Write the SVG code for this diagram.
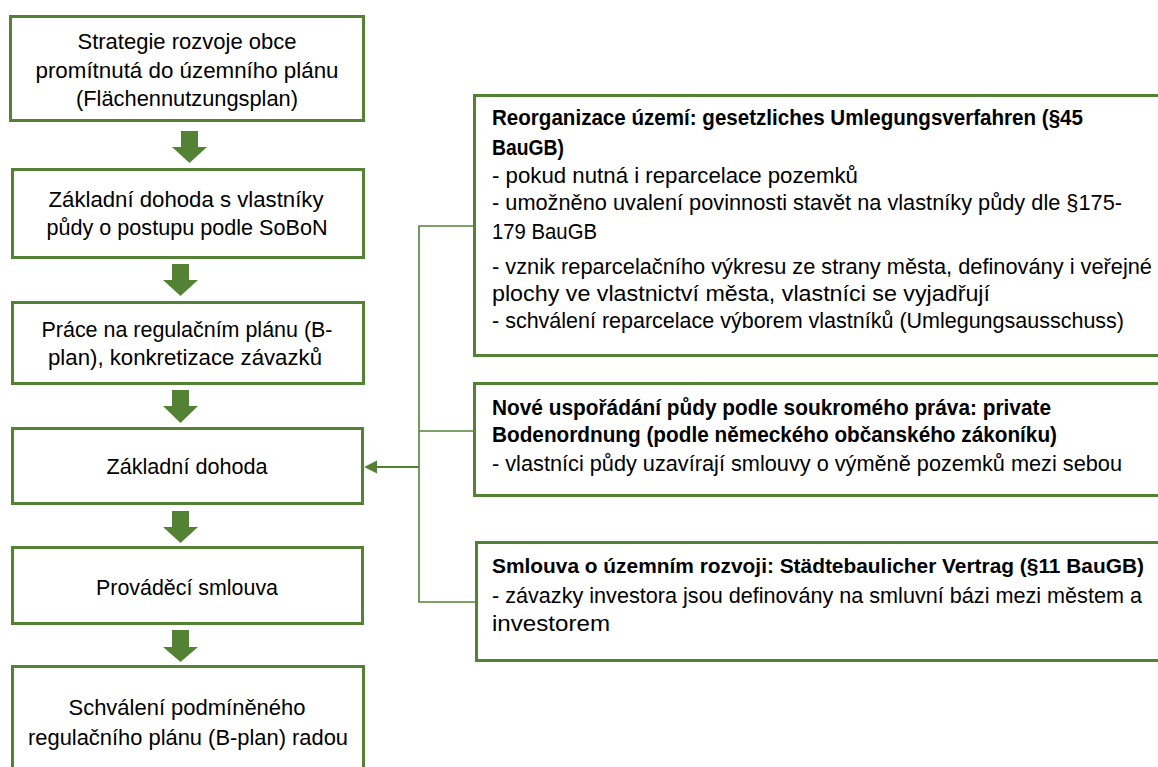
<svg xmlns="http://www.w3.org/2000/svg" width="1158" height="767" viewBox="0 0 1158 767">
<style>
.box{fill:#fff;stroke:#548235;stroke-width:3}
.blk{fill:#548235}
.t{font-family:"Liberation Sans",Arial,sans-serif;font-size:22px;fill:#000}
.c{text-anchor:middle}
.b{font-weight:bold}
.s{font-size:21px}
.ln{stroke:#548235;stroke-width:1.6;fill:none}
</style>
<rect width="1158" height="767" fill="#fff"/>

<g id="n1">
<rect class="box" x="10.5" y="16.5" width="353" height="104"/>
<text class="t c" x="187" y="49" textLength="219" lengthAdjust="spacingAndGlyphs">Strategie rozvoje obce</text>
<text class="t c" x="187" y="78" textLength="303" lengthAdjust="spacingAndGlyphs">promítnutá do územního plánu</text>
<text class="t c" x="187" y="106" textLength="222" lengthAdjust="spacingAndGlyphs">(Flächennutzungsplan)</text>
</g>
<g id="n2">
<rect class="box" x="12.5" y="169.5" width="351" height="88"/>
<text class="t c" x="186" y="207" textLength="275" lengthAdjust="spacingAndGlyphs">Základní dohoda s vlastníky</text>
<text class="t c" x="187" y="235" textLength="281" lengthAdjust="spacingAndGlyphs">půdy o postupu podle SoBoN</text>
</g>
<g id="n3">
<rect class="box" x="12.5" y="302.5" width="351" height="81"/>
<text class="t c" x="187" y="337" textLength="291" lengthAdjust="spacingAndGlyphs">Práce na regulačním plánu (B-</text>
<text class="t c" x="185" y="365" textLength="274" lengthAdjust="spacingAndGlyphs">plan), konkretizace závazků</text>
</g>
<g id="n4">
<rect class="box" x="12.5" y="428.5" width="350" height="75"/>
<text class="t c" x="187" y="474" textLength="161" lengthAdjust="spacingAndGlyphs">Základní dohoda</text>
</g>
<g id="n5">
<rect class="box" x="12.5" y="547.5" width="350" height="76"/>
<text class="t c" x="187" y="595" textLength="182" lengthAdjust="spacingAndGlyphs">Prováděcí smlouva</text>
</g>
<g id="n6">
<rect class="box" x="12.5" y="666.5" width="351" height="110"/>
<text class="t c" x="187" y="715" textLength="237" lengthAdjust="spacingAndGlyphs">Schválení podmíněného</text>
<text class="t c" x="188" y="745" textLength="320" lengthAdjust="spacingAndGlyphs">regulačního plánu (B-plan) radou</text>
</g>

<g id="r1">
<rect class="box" x="474.5" y="95.5" width="700" height="260"/>
<text class="t b" x="492" y="125" textLength="591" lengthAdjust="spacingAndGlyphs">Reorganizace území: gesetzliches Umlegungsverfahren (§45</text>
<text class="t b" x="492" y="155" textLength="72" lengthAdjust="spacingAndGlyphs">BauGB)</text>
<text class="t" x="492" y="183" textLength="366" lengthAdjust="spacingAndGlyphs">- pokud nutná i reparcelace pozemků</text>
<text class="t" x="492" y="210" textLength="630" lengthAdjust="spacingAndGlyphs">- umožněno uvalení povinnosti stavět na vlastníky půdy dle §175-</text>
<text class="t" x="492" y="239" textLength="105" lengthAdjust="spacingAndGlyphs">179 BauGB</text>
<text class="t" x="492" y="274" textLength="660" lengthAdjust="spacingAndGlyphs">- vznik reparcelačního výkresu ze strany města, definovány i veřejné</text>
<text class="t" x="492" y="301" textLength="498" lengthAdjust="spacingAndGlyphs">plochy ve vlastnictví města, vlastníci se vyjadřují</text>
<text class="t" x="492" y="328" textLength="632" lengthAdjust="spacingAndGlyphs">- schválení reparcelace výborem vlastníků (Umlegungsausschuss)</text>
</g>
<g id="r2">
<rect class="box" x="474.5" y="383.5" width="700" height="112"/>
<text class="t b" x="492" y="415" textLength="559" lengthAdjust="spacingAndGlyphs">Nové uspořádání půdy podle soukromého práva:  private</text>
<text class="t b" x="492" y="442" textLength="565" lengthAdjust="spacingAndGlyphs">Bodenordnung (podle německého občanského zákoníku)</text>
<text class="t" x="492" y="471" textLength="630" lengthAdjust="spacingAndGlyphs">- vlastníci půdy uzavírají smlouvy o výměně pozemků mezi sebou</text>
</g>
<g id="r3">
<rect class="box" x="476.5" y="542.5" width="700" height="118"/>
<text class="t b s" x="492" y="573" textLength="652" lengthAdjust="spacingAndGlyphs">Smlouva o územním rozvoji: Städtebaulicher Vertrag (§11 BauGB)</text>
<text class="t" x="492" y="603" textLength="650" lengthAdjust="spacingAndGlyphs">- závazky investora jsou definovány na smluvní bázi mezi městem a</text>
<text class="t" x="492" y="631" textLength="118" lengthAdjust="spacingAndGlyphs">investorem</text>
</g>

<g id="connectors">
<path class="blk" d="M181,131 H198 V147 H207 L189.5,163 L172,147 H181 Z"/>
<path class="blk" d="M172,264 H189 V280 H198 L180.5,296 L163,280 H172 Z"/>
<path class="blk" d="M172,390 H189 V406 H198 L180.5,423 L163,406 H172 Z"/>
<path class="blk" d="M172,511 H189 V527 H198 L180.5,543 L163,527 H172 Z"/>
<path class="blk" d="M172,630 H189 V647 H198 L180.5,662 L163,647 H172 Z"/>
<path class="ln" d="M474,226 H419 V602 H476"/>
<path class="ln" d="M419,431 H474"/>
<path d="M419,467 H377" stroke="#548235" stroke-width="2.2" fill="none"/>
<path d="M377,460.5 L364,467 L377,473.5 Z" fill="#548235"/>
</g>
</svg>
